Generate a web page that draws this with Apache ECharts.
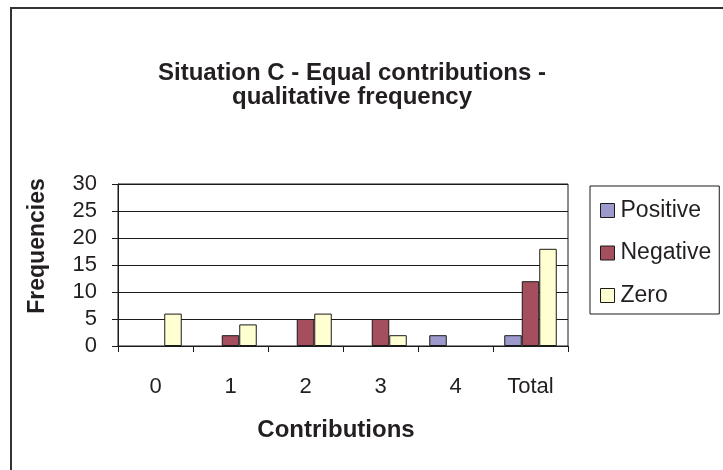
<!DOCTYPE html>
<html>
<head>
<meta charset="utf-8">
<title>Situation C - Equal contributions - qualitative frequency</title>
<script src="https://cdn.jsdelivr.net/npm/echarts@6/dist/echarts.min.js"></script>
<style>
  html, body { margin: 0; padding: 0; background: #fff; }
  #chart { width: 723px; height: 470px; }
</style>
</head>
<body>
<div id="chart"></div>
<script>
// Contribution levels on the x axis
const categories = ['0', '1', '2', '3', '4', 'Total'];

// Qualitative frequency counts per contribution level
const positiveValues = [0, 0, 0, 0, 2, 2];
const negativeValues = [0, 2, 5, 5, 0, 12];
const zeroValues = [6, 4, 6, 2, 0, 18];

// Frequency axis range and step
const yMin = 0;
const yMax = 30;
const yStep = 5;

const FONT = '"Liberation Sans", Arial, sans-serif';
const INK = '#231f20';
const EDGE = '#1a1a1a';

const chart = echarts.init(document.getElementById('chart'), null, { renderer: 'canvas' });

// Empty counts get no outline so nothing is stroked along the baseline
function barData(values) {
  return values.map(v => v === 0 ? { value: v, itemStyle: { borderWidth: 0 } } : v);
}

function barSeries(name, values, color) {
  return {
    name: name,
    type: 'bar',
    data: barData(values),
    barWidth: 17.5,
    barGap: '0%',
    itemStyle: { color: color, borderColor: EDGE, borderWidth: 1 },
    emphasis: { disabled: true },
    animation: false
  };
}

chart.setOption({
  backgroundColor: '#ffffff',
  animation: false,
  textStyle: { fontFamily: FONT, color: INK },
  grid: {
    left: 118, right: 155, top: 184, bottom: 124,
    show: true, borderColor: EDGE, borderWidth: 1, backgroundColor: 'transparent'
  },
  legend: {
    orient: 'vertical',
    left: 590,
    top: 186,
    padding: [13, 8, 7, 10],
    itemGap: 19.5,
    itemWidth: 14,
    itemHeight: 14,
    icon: 'rect',
    borderColor: EDGE,
    borderWidth: 1,
    itemStyle: { borderColor: EDGE, borderWidth: 1 },
    textStyle: { fontFamily: FONT, fontSize: 23, color: INK, padding: [0, 0, 0, 1] },
    selectedMode: false,
    data: ['Positive', 'Negative', 'Zero']
  },
  xAxis: {
    type: 'category',
    data: categories,
    boundaryGap: true,
    name: 'Contributions',
    nameLocation: 'middle',
    nameGap: 72,
    nameTextStyle: { fontFamily: FONT, fontSize: 24, fontWeight: 'bold', color: INK, padding: [0, 14, 0, 0] },
    axisLine: { show: true, lineStyle: { color: EDGE, width: 1 } },
    axisTick: { show: true, length: 6, alignWithLabel: false, lineStyle: { color: EDGE } },
    axisLabel: { fontFamily: FONT, fontSize: 22, color: INK, margin: 30, interval: 0 },
    splitLine: { show: false }
  },
  yAxis: {
    type: 'value',
    min: yMin,
    max: yMax,
    interval: yStep,
    axisLine: { show: true, lineStyle: { color: EDGE, width: 1 } },
    axisTick: { show: true, length: 6, inside: false, lineStyle: { color: EDGE } },
    axisLabel: { fontFamily: FONT, fontSize: 22, color: INK, margin: 21 },
    splitLine: { show: true, lineStyle: { color: EDGE, width: 1 } }
  },
  graphic: [
    {
      type: 'rect',
      shape: { x: 11, y: 8, width: 800, height: 600 },
      style: { fill: 'none', stroke: '#333333', lineWidth: 2 },
      silent: true
    },
    {
      type: 'text',
      x: 352,
      y: 61,
      style: {
        text: 'Situation C - Equal contributions -\nqualitative frequency',
        fontFamily: FONT,
        fontSize: 24,
        fontWeight: 'bold',
        lineHeight: 24,
        fill: INK,
        textAlign: 'center',
        textVerticalAlign: 'top'
      },
      silent: true
    },
    {
      type: 'text',
      x: 38,
      y: 246,
      rotation: Math.PI / 2,
      style: {
        text: 'Frequencies',
        fontFamily: FONT,
        fontSize: 23,
        fontWeight: 'bold',
        fill: INK,
        textAlign: 'center',
        textVerticalAlign: 'middle'
      },
      silent: true
    }
  ],
  series: [
    barSeries('Positive', positiveValues, '#9c9acc'),
    barSeries('Negative', negativeValues, '#a54f5e'),
    barSeries('Zero', zeroValues, '#ffffd2')
  ]
});
</script>
</body>
</html>
